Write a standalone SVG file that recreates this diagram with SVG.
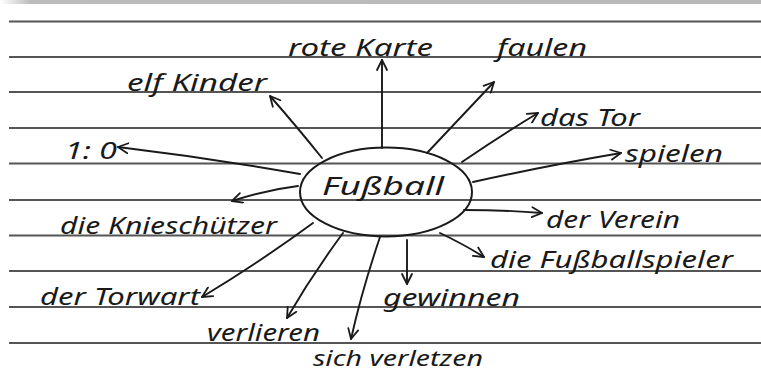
<svg xmlns="http://www.w3.org/2000/svg" width="761" height="374" viewBox="0 0 761 374">
<defs>
<linearGradient id="band" x1="0" y1="0" x2="1" y2="0">
<stop offset="0" stop-color="#ffffff"/>
<stop offset="0.04" stop-color="#bcbcbc"/>
<stop offset="1" stop-color="#b8b8b8"/>
</linearGradient>
<marker id="arr" viewBox="0 0 12 12" refX="11" refY="6" markerWidth="12" markerHeight="12" markerUnits="userSpaceOnUse" orient="auto">
<path d="M1,1 L11,6 L1,11" fill="none" stroke="#1a1a1a" stroke-width="1.8" stroke-linecap="round" stroke-linejoin="round"/>
</marker>
</defs>
<style>
.rule{stroke:#555;stroke-width:2.2}
.con{fill:none;stroke:#1a1a1a;stroke-width:1.9;stroke-linecap:round;marker-end:url(#arr)}
.t{font-family:"Noto Sans","DejaVu Sans",sans-serif;font-style:italic;font-size:24px;fill:#1a1a1a}
</style>
<rect width="761" height="374" fill="#ffffff"/>
<rect x="0" y="0" width="761" height="4" fill="url(#band)"/>
<g id="rules">
<line class="rule" x1="9" y1="21.5" x2="761" y2="21.5"/>
<line class="rule" x1="9" y1="57" x2="761" y2="57"/>
<line class="rule" x1="9" y1="92" x2="761" y2="92"/>
<line class="rule" x1="9" y1="128" x2="761" y2="128"/>
<line class="rule" x1="9" y1="163.5" x2="761" y2="163.5"/>
<line class="rule" x1="9" y1="200" x2="761" y2="200"/>
<line class="rule" x1="9" y1="235.5" x2="761" y2="235.5"/>
<line class="rule" x1="9" y1="271" x2="761" y2="271"/>
<line class="rule" x1="9" y1="307" x2="761" y2="307"/>
<line class="rule" x1="9" y1="343" x2="761" y2="343"/>
</g>
<g id="connectors">
<path class="con" d="M382,148 L382,60"/>
<path class="con" d="M322,158 Q298,128 270,96"/>
<path class="con" d="M300,174 Q210,158 118,147"/>
<path class="con" d="M427,153 Q460,118 494,82"/>
<path class="con" d="M462,162 Q500,136 538,113"/>
<path class="con" d="M473,182 Q550,165 621,153"/>
<path class="con" d="M464,210 Q505,210 542,213"/>
<path class="con" d="M440,233 Q465,245 484,257"/>
<path class="con" d="M407,240 L407,284"/>
<path class="con" d="M380,237 Q362,290 351,339"/>
<path class="con" d="M343,233 Q312,275 287,318"/>
<path class="con" d="M313,223 Q260,262 202,297"/>
<path class="con" d="M298,186 Q265,190 232,201"/>
</g>
<g id="center">
<ellipse cx="386" cy="192" rx="86" ry="44.5" fill="none" stroke="#1a1a1a" stroke-width="2"/>
<text class="t" x="322" y="195" textLength="122" lengthAdjust="spacingAndGlyphs" style="font-size:26px">Fußball</text>
</g>
<g id="n-rote-karte"><text class="t" x="288" y="56" textLength="145" lengthAdjust="spacingAndGlyphs">rote Karte</text></g>
<g id="n-faulen"><text class="t" x="497" y="56" textLength="90" lengthAdjust="spacingAndGlyphs">faulen</text></g>
<g id="n-elf-kinder"><text class="t" x="127" y="91" textLength="140" lengthAdjust="spacingAndGlyphs">elf Kinder</text></g>
<g id="n-das-tor"><text class="t" x="540" y="126" textLength="100" lengthAdjust="spacingAndGlyphs">das Tor</text></g>
<g id="n-1-0"><text class="t" x="65" y="159" textLength="52" lengthAdjust="spacingAndGlyphs">1: 0</text></g>
<g id="n-spielen"><text class="t" x="625" y="162" textLength="98" lengthAdjust="spacingAndGlyphs">spielen</text></g>
<g id="n-kniesch"><text class="t" x="60" y="234" textLength="217" lengthAdjust="spacingAndGlyphs">die Knieschützer</text></g>
<g id="n-verein"><text class="t" x="546" y="228" textLength="134" lengthAdjust="spacingAndGlyphs">der Verein</text></g>
<g id="n-spieler"><text class="t" x="490" y="268" textLength="243" lengthAdjust="spacingAndGlyphs">die Fußballspieler</text></g>
<g id="n-gewinnen"><text class="t" x="383" y="306" textLength="137" lengthAdjust="spacingAndGlyphs">gewinnen</text></g>
<g id="n-torwart"><text class="t" x="40" y="305" textLength="160" lengthAdjust="spacingAndGlyphs">der Torwart</text></g>
<g id="n-verlieren"><text class="t" x="207" y="341" textLength="113" lengthAdjust="spacingAndGlyphs">verlieren</text></g>
<g id="n-verletzen"><text class="t" x="313" y="366" textLength="170" lengthAdjust="spacingAndGlyphs" style="font-size:21px">sich verletzen</text></g>
</svg>
